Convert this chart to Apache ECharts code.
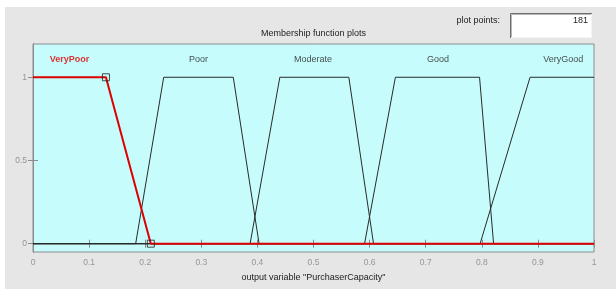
<!DOCTYPE html>
<html>
<head>
<meta charset="utf-8">
<script src="https://cdn.jsdelivr.net/npm/echarts@6/dist/echarts.min.js"></script>
<style>
  html, body { margin: 0; padding: 0; background: #fff; }
  #main { width: 616px; height: 289px; }
</style>
</head>
<body>
<div id="main"></div>
<script>
// membership functions (trapezoids), x = output variable, y = degree
const mfNames = ['VeryPoor', 'Poor', 'Moderate', 'Good', 'VeryGood'];
const veryPoorX = [0, 0.13, 0.21, 1];
const veryPoorY = [1, 1, 0, 0];
const poorX = [0, 0.183, 0.233, 0.357, 0.403, 1];
const poorY = [0, 0, 1, 1, 0, 0];
const moderateX = [0, 0.387, 0.44, 0.563, 0.607, 1];
const moderateY = [0, 0, 1, 1, 0, 0];
const goodX = [0, 0.591, 0.646, 0.796, 0.821, 1];
const goodY = [0, 0, 1, 1, 0, 0];
const veryGoodX = [0, 0.797, 0.886, 1];
const veryGoodY = [0, 0, 1, 1];
// where each name sits over its curve
const labelX = [0.065, 0.295, 0.499, 0.722, 0.945];
const labelY = 1.107;
// selected curve's corner handles
const handleX = [0.13, 0.21];
const handleY = [1, 0];
const yTicks = [0, 0.5, 1];
const plotPoints = '181';

const font = 'Liberation Sans, Arial, sans-serif';
const zip = (xs, ys) => xs.map((x, i) => [x, ys[i]]);

function mfLine(name, xs, ys, color, width, z) {
    return {
        type: 'line', name: name, data: zip(xs, ys),
        xAxisIndex: 0, yAxisIndex: 0,
        symbol: 'none', silent: true, z: z,
        lineStyle: { color: color, width: width }
    };
}

const chart = echarts.init(document.getElementById('main'), null, { renderer: 'canvas' });

const axisCol = '#8c8c8c';
const tickLabelCol = '#969696';

chart.setOption({
    animation: false,
    backgroundColor: '#e6e6e6',
    grid: {
        left: 33, right: 22, top: 44, bottom: 37,
        show: true, backgroundColor: '#c6fcfc', borderColor: axisCol, borderWidth: 1
    },
    xAxis: [{
        type: 'value', min: 0, max: 1, interval: 0.1,
        axisLine: { show: true, lineStyle: { color: axisCol } },
        axisTick: { show: true, inside: true, length: 4, lineStyle: { color: axisCol } },
        axisLabel: { fontFamily: font, fontSize: 8.5, color: tickLabelCol, margin: 6,
                     formatter: v => String(+v.toFixed(1)) },
        splitLine: { show: false },
        name: 'output variable "PurchaserCapacity"',
        nameLocation: 'middle', nameGap: 21,
        nameTextStyle: { fontFamily: font, fontSize: 9, color: '#222' }
    }, {
        type: 'value', min: 0, max: 1, interval: 0.1, position: 'top',
        axisLine: { show: true, lineStyle: { color: axisCol } },
        axisTick: { show: true, inside: true, length: 4, lineStyle: { color: axisCol } },
        axisLabel: { show: false }, splitLine: { show: false }
    }],
    yAxis: [{
        type: 'value', min: -0.05, max: 1.2,
        axisLine: { show: true, lineStyle: { color: axisCol } },
        axisTick: { show: true, inside: true, length: 5, customValues: yTicks, lineStyle: { color: axisCol } },
        axisLabel: { customValues: yTicks, fontFamily: font, fontSize: 8.5, color: tickLabelCol, margin: 6 },
        splitLine: { show: false }
    }, {
        type: 'value', min: -0.05, max: 1.2, position: 'right',
        axisLine: { show: true, lineStyle: { color: axisCol } },
        axisTick: { show: true, inside: true, length: 5, customValues: yTicks, lineStyle: { color: axisCol } },
        axisLabel: { show: false }, splitLine: { show: false }
    }],
    series: [
        mfLine('Poor', poorX, poorY, '#2a2a2a', 1, 2),
        mfLine('Moderate', moderateX, moderateY, '#2a2a2a', 1, 2),
        mfLine('Good', goodX, goodY, '#2a2a2a', 1, 2),
        mfLine('VeryGood', veryGoodX, veryGoodY, '#2a2a2a', 1, 2),
        mfLine('VeryPoor', veryPoorX, veryPoorY, '#dd0000', 2, 3),
        {
            type: 'scatter', silent: true, z: 4,
            data: zip(handleX, handleY),
            symbol: 'rect', symbolSize: 7,
            itemStyle: { color: 'rgba(0,0,0,0)', borderColor: '#222', borderWidth: 1 }
        },
        {
            type: 'scatter', silent: true, z: 5, symbolSize: 0,
            data: mfNames.map((n, i) => ({
                value: [labelX[i], labelY], name: n,
                label: i === 0 ? { color: '#dd0000', fontWeight: 'bold' } : {}
            })),
            label: {
                show: true, position: 'inside', formatter: p => p.name,
                fontFamily: font, fontSize: 9, color: '#222'
            }
        }
    ],
    graphic: [
        // white outer margins
        { type: 'rect', shape: { x: 0, y: 0, width: 616, height: 7 }, style: { fill: '#fff' }, silent: true },
        { type: 'rect', shape: { x: 0, y: 0, width: 5, height: 289 }, style: { fill: '#fff' }, silent: true },
        {
            type: 'text', left: 261, top: 29, silent: true,
            style: { text: 'Membership function plots', font: '9px ' + font, fill: '#222' }
        },
        {
            type: 'text', right: 616 - 500, top: 16, silent: true,
            style: { text: 'plot points:', font: '9px ' + font, fill: '#222' }
        },
        { type: 'rect', shape: { x: 510, y: 13, width: 82, height: 25 }, style: { fill: '#fff' }, silent: true },
        { type: 'polyline', shape: { points: [[510.5, 38], [510.5, 13.5], [592, 13.5]] },
          style: { stroke: '#6e6e6e', lineWidth: 1, fill: null }, silent: true },
        { type: 'polyline', shape: { points: [[511.5, 37], [511.5, 14.5], [591, 14.5]] },
          style: { stroke: '#b8b8b8', lineWidth: 1, fill: null }, silent: true },
        { type: 'polyline', shape: { points: [[511, 37.5], [591.5, 37.5], [591.5, 14]] },
          style: { stroke: '#f4f4f4', lineWidth: 1, fill: null }, silent: true },
        {
            type: 'text', right: 616 - 588, top: 16, silent: true,
            style: { text: plotPoints, font: '9px ' + font, fill: '#222' }
        }
    ]
});
</script>
</body>
</html>
